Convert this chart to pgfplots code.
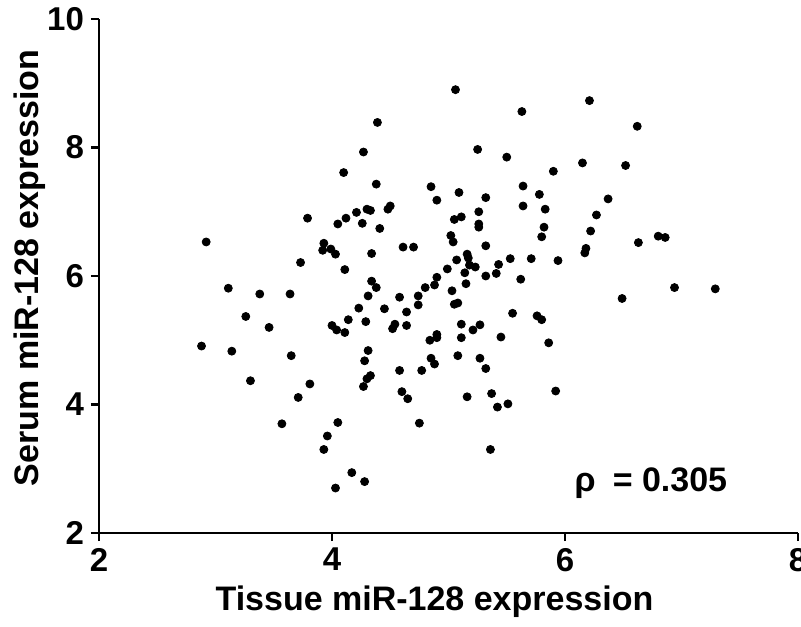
\documentclass[border=0pt]{standalone}
\usepackage{fontspec}
\setmainfont{Liberation Sans}
\usepackage{pgfplots}
\usepackage{pgfplotstable}
\pgfplotsset{compat=1.18}
\pgfplotstableread{
x y
5.06 8.90
6.21 8.73
5.63 8.56
6.62 8.33
4.39 8.39
5.25 7.97
4.27 7.93
5.50 7.85
6.15 7.76
6.52 7.72
5.90 7.63
4.10 7.61
4.38 7.43
4.85 7.39
5.09 7.30
5.64 7.40
4.90 7.18
5.32 7.22
5.78 7.27
6.37 7.20
5.64 7.09
5.83 7.04
4.48 7.04
4.50 7.09
3.79 6.90
4.05 6.81
4.12 6.90
4.21 6.99
4.30 7.04
4.33 7.02
4.26 6.82
4.41 6.74
5.26 7.00
5.05 6.88
5.11 6.92
6.27 6.95
5.26 6.81
5.26 6.76
5.82 6.76
6.22 6.70
5.80 6.61
5.02 6.63
5.04 6.53
6.63 6.52
6.80 6.62
6.86 6.60
5.32 6.47
2.92 6.53
3.93 6.51
3.92 6.40
3.99 6.42
4.03 6.34
4.34 6.35
4.61 6.45
4.70 6.45
6.18 6.43
6.17 6.36
5.16 6.34
5.17 6.28
5.18 6.17
5.23 6.14
5.07 6.25
4.99 6.11
5.14 6.05
5.32 6.00
5.41 6.04
5.43 6.18
5.53 6.27
5.71 6.27
5.94 6.24
4.90 5.98
5.62 5.95
3.73 6.21
4.11 6.10
4.34 5.92
4.38 5.82
3.11 5.81
3.38 5.72
3.64 5.72
4.31 5.69
4.58 5.67
4.74 5.69
4.80 5.82
4.88 5.86
5.03 5.77
5.15 5.88
6.94 5.82
7.29 5.80
6.49 5.65
3.26 5.37
3.46 5.20
4.23 5.50
4.45 5.49
4.64 5.44
4.74 5.55
4.14 5.32
4.29 5.29
4.00 5.23
4.04 5.16
4.11 5.12
4.52 5.18
4.54 5.25
4.64 5.23
5.05 5.56
5.08 5.58
5.55 5.42
5.76 5.38
5.80 5.32
5.11 5.25
5.27 5.24
5.21 5.16
2.88 4.91
3.14 4.83
3.65 4.76
4.84 5.00
4.90 5.09
4.90 5.04
5.11 5.04
5.45 5.05
5.86 4.96
4.31 4.84
4.28 4.68
4.85 4.72
4.88 4.63
5.08 4.76
5.27 4.72
5.32 4.56
4.58 4.53
4.77 4.53
4.30 4.40
4.33 4.45
4.27 4.28
3.30 4.37
3.81 4.32
3.71 4.11
4.60 4.20
4.65 4.09
5.16 4.12
5.37 4.17
5.92 4.21
5.42 3.96
5.51 4.01
3.57 3.70
4.05 3.72
4.75 3.71
3.96 3.51
3.93 3.30
5.36 3.30
4.17 2.94
4.28 2.80
4.03 2.70
}\datatable
\begin{document}
\begin{tikzpicture}
\begin{axis}[
  scale only axis, width=349.5pt, height=257pt,
  xmin=2, xmax=8, ymin=2, ymax=10,
  axis lines=left,
  axis line style={-, line width=1.3pt, black},
  xtick={2,4,6,8}, ytick={2,4,6,8,10},
  tick align=outside, major tick length=4pt,
  tick style={line width=1.3pt, black},
  /pgf/number format/assume math mode=true,
  ticklabel style={font=\fontsize{16.5}{20}\selectfont\bfseries},
  label style={font=\fontsize{17}{20}\selectfont\bfseries},
  xlabel={Tissue miR-128 expression},
  ylabel={Serum miR-128 expression},
  xlabel style={at={(axis description cs:0.48,-0.134)}, anchor=center},
  ylabel style={at={(axis description cs:-0.0987,0.516)}, anchor=center},
  clip=false,
]
\addplot[only marks, mark=*, mark size=2pt, black] table[x=x, y=y] {\datatable};
\node[anchor=base west, font=\fontsize{17}{20}\selectfont\bfseries, inner sep=0pt] at (axis cs:6.08,2.64) {ρ\hspace{0.5em}= 0.305};
\end{axis}
\pgfresetboundingbox
\useasboundingbox (-49.5pt,-46.5pt) rectangle (351pt,266.5pt);
\end{tikzpicture}
\end{document}
